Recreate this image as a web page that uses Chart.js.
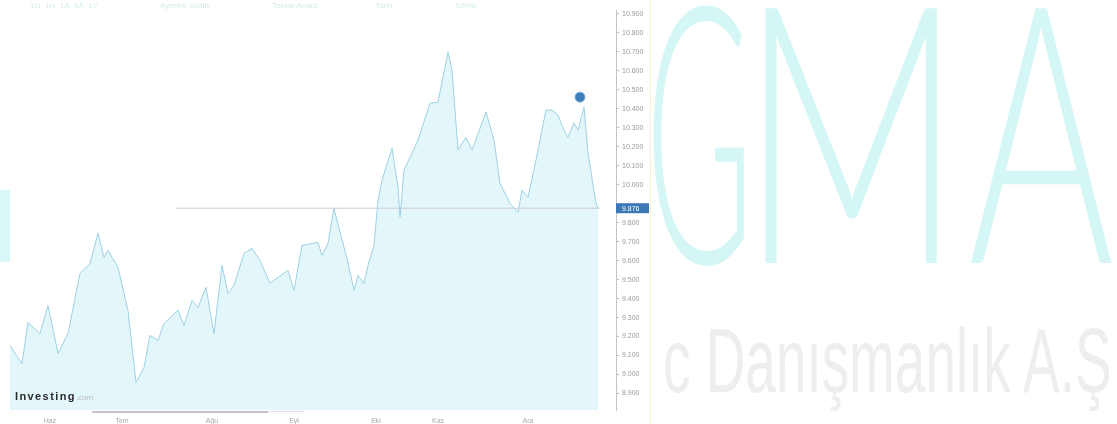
<!DOCTYPE html>
<html>
<head>
<meta charset="utf-8">
<script src="https://cdn.jsdelivr.net/npm/chart.js@4.4.1/dist/chart.umd.min.js"></script>
<style>
  html, body { margin: 0; padding: 0; background: #fff; }
  body { width: 1117px; height: 424px; position: relative; overflow: hidden; font-family: "Liberation Sans", Arial, sans-serif; }
  #grafik { position: absolute; left: 0; top: 0; z-index: 2; }
  .harf { position: absolute; top: -56px; font-family: Lato, sans-serif; font-weight: 300; font-size: 360px; line-height: 1; color: #d4f7f6; transform-origin: 0 0; white-space: nowrap; }
  #altyazi { position: absolute; left: 663px; top: 316px; font-size: 90px; line-height: 1; color: #eeeeee; transform: scaleX(0.61); transform-origin: 0 0; white-space: nowrap; }
  #serit { position: absolute; left: 0; top: 190px; width: 10px; height: 72px; background: #d8f8f7; z-index: 3; }
  #ayrac { position: absolute; left: 650px; top: 0; width: 1px; height: 424px; background: #f6f2cf; }
  .ust { position: absolute; top: 1px; font-size: 8px; color: #d6ece3; white-space: nowrap; z-index: 3; }
  #logo { position: absolute; left: 15px; top: 390px; font-size: 11px; font-weight: bold; letter-spacing: 1.4px; color: #2b2b2b; z-index: 3; }
  #logo span { font-weight: normal; letter-spacing: 0; color: #b9b9b9; font-size: 8px; }
  #kaydirma { position: absolute; left: 92px; top: 411px; width: 176px; height: 2px; background: #c4c4c4; z-index: 3; }
  #kaydirma2 { position: absolute; left: 268px; top: 411px; width: 36px; height: 1px; background: #e2e2e2; z-index: 3; }
</style>
</head>
<body>
<div class="harf" style="left:645px; transform:scaleX(0.41)">G</div>
<div class="harf" style="left:740px; transform:scaleX(0.68)">M</div>
<div class="harf" style="left:968px; transform:scaleX(0.62)">A</div>
<div id="altyazi">c Danışmanlık A.Ş</div>
<div id="ayrac"></div>
<div id="serit"></div>
<div class="ust" style="left:30px">1G&nbsp; 1H&nbsp; 1A&nbsp; 6A&nbsp; 1Y</div>
<div class="ust" style="left:160px">Ayrıntılı Grafik</div>
<div class="ust" style="left:272px">Teknik Analiz</div>
<div class="ust" style="left:375px">Tarih</div>
<div class="ust" style="left:455px">Sıfırla</div>
<div id="logo">Investing<span>.com</span></div>
<div id="kaydirma"></div>
<div id="kaydirma2"></div>
<canvas id="grafik" width="650" height="431"></canvas>

<script>
// seans sırası ve kapanış değerleri
const gun = [0, 6, 9, 15, 19, 24, 29, 35, 40, 44, 47, 49, 54, 59, 63, 67, 70, 74, 77, 84,
    87, 91, 94, 98, 102, 106, 109, 112, 117, 121, 125, 130, 134, 139, 142, 146, 154, 156, 159, 162,
    165, 169, 172, 174, 177, 179, 182, 184, 186, 191, 194, 195, 197, 204, 210, 214, 219, 221, 224, 228,
    231, 238, 242, 245, 250, 254, 256, 259, 263, 268, 271, 274, 277, 279, 282, 284, 287, 289, 293, 294];
const kapanis = [9153, 9058, 9274, 9216, 9364, 9111, 9216, 9533, 9585, 9744, 9617, 9654, 9564, 9338, 8958, 9037, 9206, 9179, 9269, 9338,
    9258, 9390, 9353, 9459, 9216, 9575, 9427, 9469, 9638, 9665, 9601, 9480, 9512, 9549, 9443, 9680, 9696, 9628, 9691, 9876,
    9749, 9591, 9443, 9522, 9480, 9575, 9680, 9918, 10023, 10192, 9986, 9828, 10076, 10234, 10429, 10435, 10698, 10604, 10182, 10250,
    10182, 10382, 10234, 10007, 9902, 9854, 9971, 9934, 10129, 10393, 10393, 10366, 10287, 10250, 10324, 10287, 10408, 10166, 9902, 9876];

// ay başları (x ekseni etiketleri)
const ayBaslari = [20, 56, 101, 142, 183, 214, 259];
const ayEtiketleri = ["Haz", "Tem", "Ağu", "Eyl", "Eki", "Kas", "Ara"];

// sağ eksen değerleri
const yTikleri = [10900, 10800, 10700, 10600, 10500, 10400, 10300, 10200, 10100, 10000,
    9900, 9800, 9700, 9600, 9500, 9400, 9300, 9200, 9100, 9000, 8900];

const sonFiyat = 9876;
const fiyatCizgisiGun = [83, 295];
const olayGun = [285];
const olayDeger = [10461];

function noktali(v) {
    return String(v).replace(/\B(?=(\d{3})+(?!\d))/g, ".");
}

// son fiyat kutusu
const fiyatKutusu = {
    id: "fiyatKutusu",
    afterDraw(chart) {
        const c = chart.ctx;
        const y = chart.scales.y.getPixelForValue(sonFiyat);
        const x = chart.chartArea.right;
        c.save();
        c.fillStyle = "#fff";
        c.fillRect(x + 1, y - 7, 33, 14);
        c.fillStyle = "#3c78b6";
        c.fillRect(x, y - 5, 33, 10);
        c.fillStyle = "#fff";
        c.font = "7px 'Liberation Sans', Arial, sans-serif";
        c.textBaseline = "middle";
        c.fillText(noktali(sonFiyat), x + 6, y + 0.5);
        c.restore();
    }
};

const ctx = document.getElementById("grafik").getContext("2d");

new Chart(ctx, {
    type: "line",
    data: {
        datasets: [
            {
                data: olayGun.map((g, i) => ({ x: g, y: olayDeger[i] })),
                type: "scatter",
                pointRadius: 5,
                backgroundColor: "#3f7fb9",
                borderColor: "#7fb2dc",
                borderWidth: 1,
                order: 0
            },
            {
                data: fiyatCizgisiGun.map(g => ({ x: g, y: sonFiyat })),
                borderColor: "#cdcdcd",
                borderWidth: 1,
                pointRadius: 0,
                fill: false,
                order: 1
            },
            {
                data: gun.map((g, i) => ({ x: g, y: kapanis[i] })),
                borderColor: "#9dd0e4",
                borderWidth: 1,
                backgroundColor: "#e3f7fa",
                fill: "start",
                pointRadius: 0,
                tension: 0,
                order: 2
            }
        ]
    },
    options: {
        responsive: false,
        animation: false,
        layout: { padding: { left: 10, top: 10, right: 0, bottom: 0 } },
        plugins: {
            legend: { display: false },
            tooltip: { enabled: false }
        },
        scales: {
            x: {
                type: "linear",
                min: 0,
                max: 303,
                afterBuildTicks: ax => { ax.ticks = ayBaslari.map(v => ({ value: v })); },
                ticks: {
                    callback: v => ayEtiketleri[ayBaslari.indexOf(v)],
                    font: { size: 7 },
                    color: "#a8a8a8",
                    maxRotation: 0,
                    autoSkip: false,
                    padding: 6
                },
                grid: { display: false, drawTicks: false },
                border: { display: false }
            },
            y: {
                position: "right",
                min: 8810,
                max: 10920,
                afterBuildTicks: ax => { ax.ticks = yTikleri.map(v => ({ value: v })); },
                afterFit: ax => { ax.width = 34; },
                ticks: {
                    callback: v => noktali(v),
                    font: { size: 7 },
                    color: "#9a9a9a",
                    padding: 3
                },
                grid: { drawOnChartArea: false, drawTicks: true, tickLength: 3, color: "#bdbdbd" },
                border: { display: true, color: "#c4c4c4" }
            }
        }
    },
    plugins: [fiyatKutusu]
});
</script>
</body>
</html>
